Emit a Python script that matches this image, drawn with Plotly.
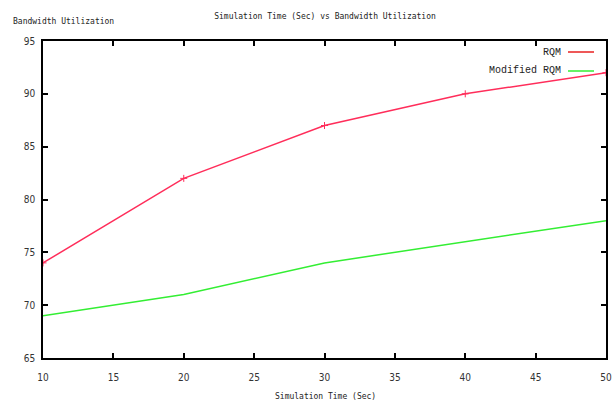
import plotly.graph_objects as go

time_sec = [10, 20, 30, 40, 50]
rqm = [74, 82, 87, 90, 92]
modified_rqm = [69, 71, 74, 76, 78]
x_ticks = [10, 15, 20, 25, 30, 35, 40, 45, 50]
y_ticks = [65, 70, 75, 80, 85, 90, 95]

RQM_COLOR = "#ff2d5a"
MOD_COLOR = "#33ee33"

W, H = 613, 403
L, R, T, B = 43, 7, 41, 45
PW, PH = W - L - R, H - T - B

def px_x(x):
    return (x - L) / PW

def px_y(y):
    return 1 - (y - T) / PH

fig = go.Figure()
fig.add_trace(go.Scatter(x=time_sec, y=rqm, mode="lines+markers", name="RQM",
                         line=dict(color=RQM_COLOR, width=1.5),
                         marker=dict(symbol="cross-thin", size=5,
                                     line=dict(color=RQM_COLOR, width=1)),
                         showlegend=False))
fig.add_trace(go.Scatter(x=time_sec, y=modified_rqm, mode="lines", name="Modified RQM",
                         line=dict(color=MOD_COLOR, width=1.5),
                         showlegend=False))

mono = "DejaVu Sans Mono"
axis_common = dict(showgrid=False, zeroline=False, showline=True, linecolor="black",
                   linewidth=1.5, mirror="ticks", ticks="inside", ticklen=5,
                   tickwidth=1.5, tickcolor="black", automargin=False,
                   tickfont=dict(family="Liberation Sans Narrow, DejaVu Sans Condensed, sans-serif",
                                 size=10, color="#333333"))

fig.update_layout(
    width=W, height=H,
    margin=dict(l=L, r=R, t=T, b=B, autoexpand=False),
    paper_bgcolor="white", plot_bgcolor="white",
    title=dict(text="Simulation Time (Sec) vs Bandwidth Utilization",
               font=dict(family=mono, size=8, color="#222222"),
               x=325 / W, xanchor="center", y=1 - 16 / H, yanchor="middle"),
    xaxis=dict(range=[10, 50], tickvals=x_ticks, ticklabelstandoff=9, **axis_common),
    yaxis=dict(range=[65, 95], tickvals=y_ticks, ticklabelstandoff=4, **axis_common),
)

# axis titles placed as in the reference
fig.add_annotation(text="Simulation Time (Sec)", xref="paper", yref="paper",
                   x=px_x(325), y=px_y(396), xanchor="center", yanchor="middle",
                   showarrow=False, font=dict(family=mono, size=8, color="#222222"))
fig.add_annotation(text="Bandwidth Utilization", xref="paper", yref="paper",
                   x=px_x(11), y=px_y(22), xanchor="left", yanchor="middle", showarrow=False,
                   font=dict(family=mono, size=8, color="#222222"))

# legend drawn at the top right, text first and line sample after it
legend_items = [("RQM", RQM_COLOR, "#e82020", 52), ("Modified RQM", MOD_COLOR, MOD_COLOR, 71)]
for label, color, sample_color, ypx in legend_items:
    yp = px_y(ypx)
    fig.add_annotation(text=label, xref="paper", yref="paper",
                       x=px_x(563), y=yp, xanchor="right", yanchor="middle",
                       showarrow=False, font=dict(family="Liberation Mono", size=10, color="#222222"))
    fig.add_shape(type="line", xref="paper", yref="paper",
                  x0=px_x(568), x1=px_x(594), y0=yp, y1=yp,
                  line=dict(color=sample_color, width=1.5))

fig.write_html("out.html", config={"displayModeBar": False},
               post_script="document.body.style.margin='0';document.body.style.overflow='hidden';")
